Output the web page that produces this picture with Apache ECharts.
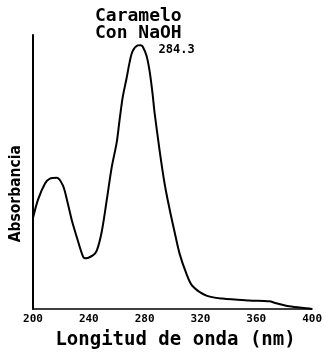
<!DOCTYPE html>
<html>
<head>
<meta charset="utf-8">
<script src="https://cdn.jsdelivr.net/npm/echarts@6/dist/echarts.min.js"></script>
<style>
  html, body {margin: 0; padding: 0; background: #fff;}
  #chart {width: 325px; height: 355px;}
</style>
</head>
<body>
<div id="chart"></div>
<script>
// longitud de onda (nm) y absorbancia relativa
const wavelengths = [
  200, 203.6, 208.6, 212.1, 217.1, 221.4, 224.3, 227.9, 231.4, 235,
  237.1, 242.9, 245.7, 249.3, 252.9, 256.4, 260, 262.1, 264.3, 267.1,
  269.3, 271.4, 275, 277.1, 278.6, 281.4, 283.6, 285.7, 287.1, 290.7,
  294.3, 297.9, 301.4, 305, 310, 314.3, 324.3, 335.7, 355, 369.3,
  374.3, 383.6, 397.9, 400
];
const absorbance = [
  0.332, 0.399, 0.458, 0.476, 0.479, 0.451, 0.399, 0.322, 0.262, 0.203,
  0.185, 0.196, 0.213, 0.283, 0.399, 0.517, 0.608, 0.692, 0.773, 0.843,
  0.902, 0.941, 0.962, 0.963, 0.958, 0.923, 0.867, 0.785, 0.718, 0.580,
  0.458, 0.364, 0.283, 0.203, 0.128, 0.084, 0.049, 0.038, 0.031, 0.028,
  0.021, 0.010, 0.002, 0.0
];
const xTicks = [200, 240, 280, 320, 360, 400];
const peakLabel = '284.3';
const peakPoint = [277.1, 0.963];

const boldFont = '"DejaVu Sans Mono", monospace';
const chart = echarts.init(document.getElementById('chart'));

chart.setOption({
  animation: false,
  backgroundColor: '#fff',
  title: {
    text: 'Caramelo\nCon NaOH',
    left: 90,
    top: 3,
    textStyle: {
      fontFamily: boldFont,
      fontWeight: 'bold',
      fontSize: 18,
      lineHeight: 17,
      color: '#000'
    }
  },
  grid: {left: 33, right: 12, top: 35, bottom: 34},
  xAxis: {
    type: 'value',
    min: 200,
    max: 400,
    interval: 40,
    name: 'Longitud de onda (nm)',
    nameLocation: 'middle',
    nameGap: 22,
    nameTextStyle: {
      fontFamily: boldFont,
      fontWeight: 'bold',
      fontSize: 19,
      color: '#000',
      padding: [0, 0, 0, 6]
    },
    axisLine: {lineStyle: {color: '#000', width: 1.5}},
    axisTick: {show: false},
    splitLine: {show: false},
    axisLabel: {
      margin: 5,
      color: '#000',
      fontFamily: boldFont,
      fontWeight: 'bold',
      fontSize: 11,
      formatter: v => xTicks.includes(v) ? String(v) : ''
    }
  },
  yAxis: {
    type: 'value',
    min: 0,
    max: 1,
    axisLine: {show: true, lineStyle: {color: '#000', width: 2}},
    axisTick: {show: false},
    axisLabel: {show: false},
    splitLine: {show: false}
  },
  graphic: [{
    type: 'text',
    left: 8,
    top: 145,
    rotation: Math.PI / 2,
    originX: 0,
    originY: 0,
    style: {
      text: 'Absorbancia',
      fontFamily: '"DejaVu Sans Condensed", "Liberation Sans Narrow", sans-serif',
      fontWeight: 'bold',
      fontSize: 15.5,
      fill: '#000'
    }
  }],
  series: [{
    type: 'line',
    data: wavelengths.map((w, i) => [w, absorbance[i]]),
    smooth: 0.3,
    showSymbol: false,
    lineStyle: {color: '#000', width: 2},
    markPoint: {
      symbol: 'circle',
      symbolSize: 0,
      data: [{coord: peakPoint}],
      label: {
        show: true,
        formatter: peakLabel,
        position: 'right',
        offset: [13, 5],
        color: '#000',
        fontFamily: boldFont,
        fontWeight: 'bold',
        fontSize: 12
      }
    }
  }]
});
</script>
</body>
</html>
